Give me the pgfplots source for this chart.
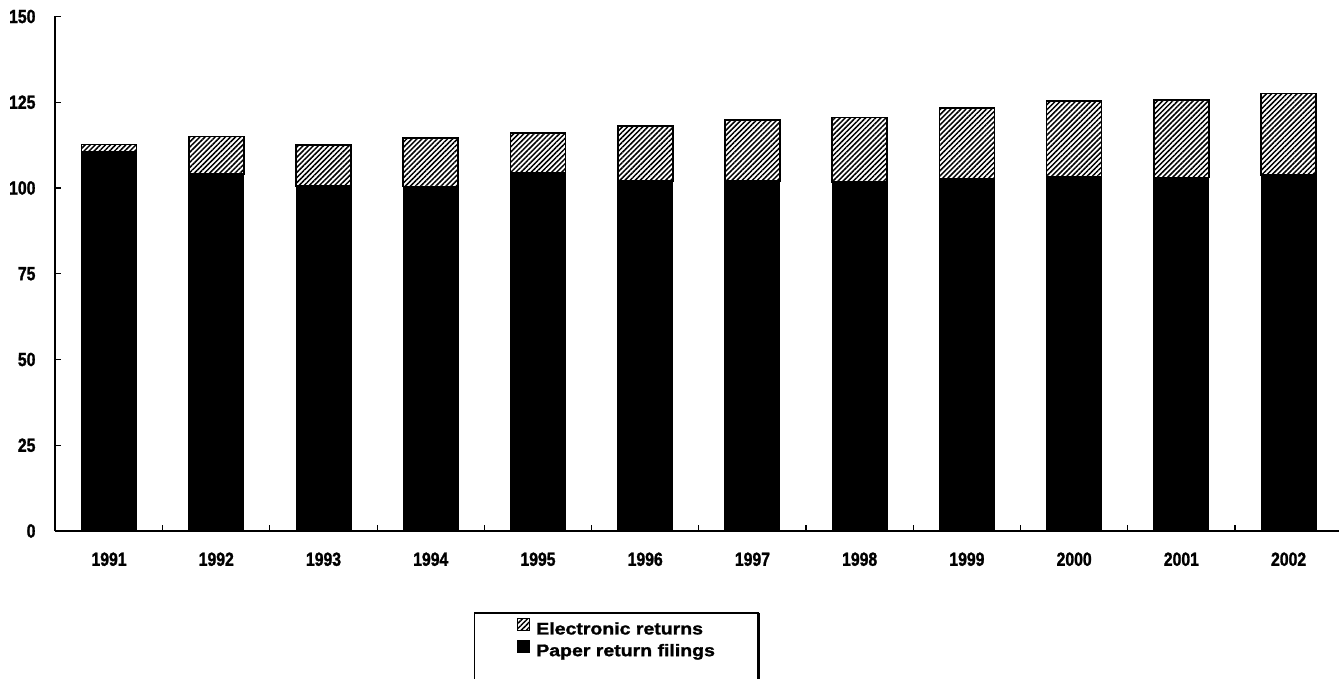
\documentclass[border=0pt]{standalone}
\usepackage{fontspec}
\setmainfont{Liberation Sans}
\newfontfamily\tickfont[FakeStretch=0.83, BoldFeatures={FakeBold=1.4}]{Liberation Sans}
\newfontfamily\legfont[FakeStretch=1.16, BoldFeatures={FakeBold=1.4}]{Liberation Sans}
\usepackage{pgfplots}
\usepackage{pgfplotstable}
\pgfplotsset{compat=1.18}
\usetikzlibrary{patterns.meta}
\pgfplotstableread{
x paper elec
0 110.5 2.2
1 104.0 11.0
2 100.6 11.9
3 100.4 14.1
4 104.3 11.8
5 102.1 16.0
6 102.0 17.8
7 101.8 18.8
8 102.6 20.8
9 103.3 22.0
10 103.1 22.6
11 103.8 23.8
}\data
\begin{document}
\begin{tikzpicture}
\begin{axis}[
  at={(55pt,147pt)}, anchor=south west,
  scale only axis, width=1284pt, height=514.5pt,
  ybar stacked, bar width=0.513,
  xmin=-0.504, xmax=11.47, ymin=0, ymax=150,
  axis x line=bottom, axis y line=left,
  axis line style={-, line width=1.6pt},
  xtick={0,...,11},
  xticklabels={1991,1992,1993,1994,1995,1996,1997,1998,1999,2000,2001,2002},
  major x tick style={draw=none},
  minor xtick={0.5,1.5,...,10.5},
  minor x tick style={line width=1.2pt, black},
  minor tick length=6pt,
  ytick={0,25,...,150},
  major tick length=6pt,
  tick align=inside,
  y tick style={line width=1.4pt, black},
  tick label style={font=\tickfont\bfseries\fontsize{19}{22}\selectfont},
  /pgf/number format/assume math mode=true,
  xticklabel style={yshift=-18pt},
  yticklabel style={xshift=-16pt},
  legend image code/.code={\draw[#1,line width=0.8pt] (0pt,-1.5pt) rectangle (12pt,10.5pt); \path (16pt,0pt);},
  legend style={name=leg, at={(0.327,-0.1594)}, anchor=north west, draw=none,
    inner xsep=42pt, inner ysep=5pt, row sep=2pt,
    font=\legfont\bfseries\fontsize{16.8}{20}\selectfont},
  legend cell align=left,
  reverse legend,
]
\addplot[fill=black, draw=black, line width=1pt] table[x=x,y=paper]{\data};
\addlegendentry{Paper return filings}
\addplot[draw=black, line width=1.6pt, pattern={Lines[angle=45,distance=3.6pt,line width=1.5pt]}] table[x=x,y=elec]{\data};
\addlegendentry{Electronic returns}
\end{axis}
\draw[line width=1.2pt] ([yshift=-60pt]leg.south west) -- (leg.north west) -- (leg.north east);
\draw[line width=3pt] ([xshift=-1pt]leg.north east) -- ([xshift=-1pt,yshift=-60pt]leg.south east);
\pgfresetboundingbox
\useasboundingbox (0,0) rectangle (1339pt,678pt);
\end{tikzpicture}
\end{document}
